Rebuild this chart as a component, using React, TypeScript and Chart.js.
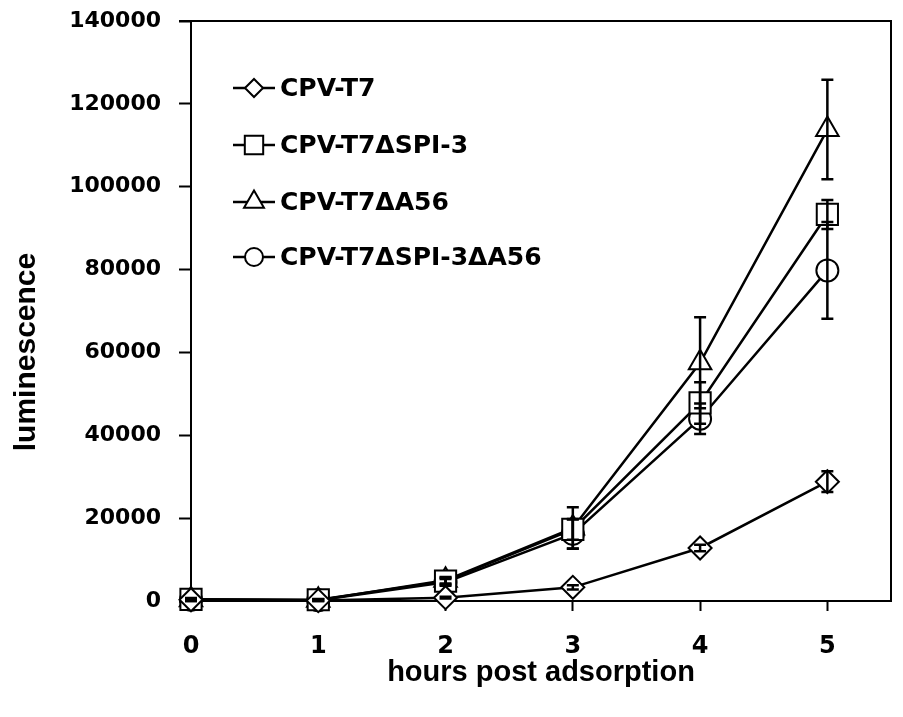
import React, { useEffect, useRef } from "react";
import { Chart, registerables } from "chart.js";
import { drawPoint } from "chart.js/helpers";

Chart.register(...registerables);

const hours = [0, 1, 2, 3, 4, 5];
const seriesNames = ["CPV-T7", "CPV-T7ΔSPI-3", "CPV-T7ΔA56", "CPV-T7ΔSPI-3ΔA56"];
const cpvT7 = [300, 100, 800, 3300, 12800, 28800];
const cpvT7Err = [0, 0, 200, 500, 800, 2500];
const spi3 = [400, 300, 4800, 17300, 47800, 93300];
const spi3Err = [300, 200, 800, 2500, 5000, 3500];
const a56 = [300, 200, 5000, 17600, 57500, 113800];
const a56Err = [300, 200, 800, 5000, 11000, 12000];
const spi3a56 = [300, 200, 4500, 16200, 44000, 79800];
const spi3a56Err = [300, 200, 800, 3500, 3700, 11700];
const yTicks = [0, 20000, 40000, 60000, 80000, 100000, 120000, 140000];
const xTicks = [0, 1, 2, 3, 4, 5];

const seriesValues = [cpvT7, spi3, a56, spi3a56];
const seriesErrors = [cpvT7Err, spi3Err, a56Err, spi3a56Err];
const pointStyles = ["rectRot", "rect", "triangle", "circle"];
const pointRadii = [11.5, 15, 13, 11];
const legendRadii = [9, 13, 11.5, 9];

const TICK_FONT = "'DejaVu Sans', sans-serif";

const errorBarPlugin = {
  id: "errorBars",
  afterDatasetsDraw(chart: any) {
    const ctx = chart.ctx;
    const xs = chart.scales.x;
    const ys = chart.scales.y;
    ctx.save();
    ctx.strokeStyle = "#000";
    ctx.lineWidth = 2.5;
    seriesErrors.forEach((errs, si) => {
      errs.forEach((e, i) => {
        if (!e) return;
        const v = seriesValues[si][i];
        const px = xs.getPixelForValue(hours[i]);
        const top = ys.getPixelForValue(v + e);
        const bot = ys.getPixelForValue(v - e);
        ctx.beginPath();
        ctx.moveTo(px, top);
        ctx.lineTo(px, bot);
        ctx.moveTo(px - 6, top);
        ctx.lineTo(px + 6, top);
        ctx.moveTo(px - 6, bot);
        ctx.lineTo(px + 6, bot);
        ctx.stroke();
      });
    });
    ctx.restore();
  },
};

const framePlugin = {
  id: "frameLegend",
  afterDraw(chart: any) {
    const ctx = chart.ctx;
    const a = chart.chartArea;
    ctx.save();
    ctx.strokeStyle = "#000";
    ctx.lineWidth = 2;
    ctx.beginPath();
    ctx.moveTo(a.left - 12, a.top);
    ctx.lineTo(a.right, a.top);
    ctx.lineTo(a.right, a.bottom);
    ctx.stroke();

    // legend
    const rows = [88, 145, 202, 257];
    seriesNames.forEach((name, i) => {
      const y = rows[i];
      ctx.strokeStyle = "#000";
      ctx.lineWidth = 2.5;
      ctx.beginPath();
      ctx.moveTo(233, y);
      ctx.lineTo(275, y);
      ctx.stroke();
      ctx.fillStyle = "#fff";
      ctx.lineWidth = 2;
      drawPoint(ctx, { pointStyle: pointStyles[i], radius: legendRadii[i], rotation: 0, borderWidth: 2 }, 254, y);
      ctx.fillStyle = "#000";
      ctx.font = `bold 25px ${TICK_FONT}`;
      ctx.textAlign = "left";
      ctx.textBaseline = "middle";
      ctx.fillText(name, 280, y + 1);
    });

    // y-axis title
    ctx.save();
    ctx.translate(27, 352);
    ctx.rotate(-Math.PI / 2);
    ctx.font = "bold 30px 'Liberation Sans', sans-serif";
    ctx.textAlign = "center";
    ctx.textBaseline = "middle";
    ctx.fillStyle = "#000";
    ctx.fillText("luminescence", 0, 0);
    ctx.restore();
    ctx.restore();
  },
};

export default function App() {
  const ref = useRef<HTMLCanvasElement | null>(null);
  useEffect(() => {
    document.body.style.margin = "0";
    const canvas = ref.current!;
    const chart = new Chart(canvas, {
      type: "line",
      data: {
        datasets: seriesNames.map((name, si) => ({
          label: name,
          data: hours.map((h, i) => ({ x: h, y: seriesValues[si][i] })),
          borderColor: "#000",
          borderWidth: 2.5,
          backgroundColor: "#fff",
          pointStyle: pointStyles[si] as any,
          pointRadius: pointRadii[si],
          pointBorderWidth: 2,
          pointBackgroundColor: "#fff",
          pointBorderColor: "#000",
          tension: 0,
          fill: false,
          clip: false as any,
        })),
      },
      options: {
        responsive: false,
        animation: false,
        events: [],
        layout: { autoPadding: false, padding: { left: 0, right: 12, top: 21, bottom: 0 } },
        plugins: {
          legend: { display: false },
          tooltip: { enabled: false },
        },
        scales: {
          x: {
            type: "linear",
            min: 0,
            max: 5.5,
            afterBuildTicks: (scale: any) => {
              scale.ticks = xTicks.map((v) => ({ value: v }));
            },
            afterFit: (scale: any) => {
              scale.height = 116;
              scale.paddingLeft = 0;
              scale.paddingRight = 0;
            },
            grid: {
              drawOnChartArea: false,
              drawTicks: true,
              tickLength: 10,
              tickWidth: 2,
              tickColor: "#000",
            },
            border: { display: true, color: "#000", width: 2 },
            ticks: {
              color: "#000",
              padding: 21,
              font: { family: TICK_FONT, size: 24, weight: "bold" },
              callback: (v: any) => String(v),
            },
            title: {
              display: true,
              text: "hours post adsorption",
              color: "#000",
              font: { family: "'Liberation Sans', sans-serif", size: 29, weight: "bold" },
              padding: { top: 0, bottom: 27 },
            },
          },
          y: {
            type: "linear",
            min: 0,
            max: 140000,
            afterBuildTicks: (scale: any) => {
              scale.ticks = yTicks.map((v) => ({ value: v }));
            },
            afterFit: (scale: any) => {
              scale.width = 191;
              scale.paddingTop = 0;
              scale.paddingBottom = 0;
            },
            grid: {
              drawOnChartArea: false,
              drawTicks: true,
              tickLength: 12,
              tickWidth: 2,
              tickColor: "#000",
            },
            border: { display: true, color: "#000", width: 2 },
            ticks: {
              color: "#000",
              padding: 18,
              font: { family: TICK_FONT, size: 22, weight: "bold" },
              callback: (v: any) => String(v),
            },
          },
        },
      },
      plugins: [errorBarPlugin, framePlugin],
    });
    return () => chart.destroy();
  }, []);
  return (
    <div style={{ width: 903, height: 717 }}>
      <canvas ref={ref} width={903} height={717} style={{ display: "block" }} />
    </div>
  );
}
